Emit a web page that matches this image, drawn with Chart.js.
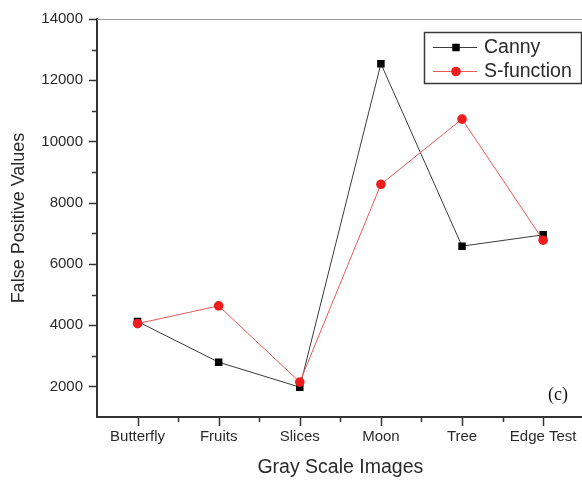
<!DOCTYPE html>
<html>
<head>
<meta charset="utf-8">
<script src="https://cdn.jsdelivr.net/npm/chart.js@4.4.1/dist/chart.umd.min.js"></script>
<style>
  html, body { margin: 0; padding: 0; background: #fff; overflow: hidden; }
  canvas { display: block; }
</style>
</head>
<body>
<canvas id="c" width="589" height="482"></canvas>
<script>
// Test images on the x axis
const images = ['Butterfly', 'Fruits', 'Slices', 'Moon', 'Tree', 'Edge Test'];
// False positive counts per detector
const cannyValues = [4120, 2790, 1975, 12540, 6580, 6950];
const sFunctionValues = [4050, 4630, 2140, 8600, 10730, 6775];
// Labelled y ticks (minor ticks fall halfway between)
const yLabelTicks = [2000, 4000, 6000, 8000, 10000, 12000, 14000];
const yMin = 1000, yMax = 14000, yMinorStep = 1000;

const AXIS = '#333333';
const TEXT = '#2a2a2a';
const SANS = '"Liberation Sans", Arial, sans-serif';

// Outward major/minor tick marks, top frame line, legend box and panel tag
const decorations = {
  id: 'decorations',
  afterDraw(chart) {
    const ctx = chart.ctx;
    const area = chart.chartArea;
    const xs = chart.scales.x, ys = chart.scales.y;
    ctx.save();

    // top frame line
    ctx.strokeStyle = '#9a9a9a';
    ctx.lineWidth = 1;
    ctx.beginPath();
    ctx.moveTo(area.left, area.top + 0.5);
    ctx.lineTo(area.right, area.top + 0.5);
    ctx.stroke();

    // y ticks
    ctx.strokeStyle = AXIS;
    ctx.lineWidth = 1.5;
    for (let v = yMin + yMinorStep; v <= yMax; v += yMinorStep) {
      const py = Math.round(ys.getPixelForValue(v)) + 0.5;
      const len = yLabelTicks.includes(v) ? 7 : 4;
      ctx.beginPath();
      ctx.moveTo(area.left - 1, py);
      ctx.lineTo(area.left - 1 - len, py);
      ctx.stroke();
    }

    // x ticks: major at categories, minor between them
    for (let i = 0; i < images.length; i++) {
      const px = Math.round(xs.getPixelForValue(i)) + 0.5;
      ctx.beginPath();
      ctx.moveTo(px, area.bottom + 1);
      ctx.lineTo(px, area.bottom + 9);
      ctx.stroke();
      if (i < images.length - 1) {
        const mx = Math.round((xs.getPixelForValue(i) + xs.getPixelForValue(i + 1)) / 2) + 0.5;
        ctx.beginPath();
        ctx.moveTo(mx, area.bottom + 1);
        ctx.lineTo(mx, area.bottom + 5);
        ctx.stroke();
      }
    }

    // legend
    const lx = 424, ly = 32, lw = 157, lh = 51;
    ctx.strokeStyle = '#3a3a3a';
    ctx.lineWidth = 1.5;
    ctx.strokeRect(lx + 0.5, ly + 0.5, lw, lh);
    const ds = chart.data.datasets.slice().sort((a, b) => a.legendRank - b.legendRank);
    ds.forEach((d, k) => {
      const cy = ly + 15 + k * 24;
      ctx.strokeStyle = d.borderColor;
      ctx.lineWidth = 1;
      ctx.beginPath();
      ctx.moveTo(lx + 9, cy + 0.5);
      ctx.lineTo(lx + 53, cy + 0.5);
      ctx.stroke();
      ctx.fillStyle = d.pointBackgroundColor;
      Chart.helpers.drawPoint(ctx, {
        pointStyle: d.pointStyle,
        radius: d.pointRadius,
        borderWidth: 0,
        rotation: 0
      }, lx + 32, cy + 0.5);
      ctx.fillStyle = TEXT;
      ctx.font = '19.5px ' + SANS;
      ctx.textAlign = 'left';
      ctx.textBaseline = 'middle';
      ctx.fillText(d.label, lx + 60, cy + 1);
    });

    // panel tag
    ctx.fillStyle = '#111';
    ctx.font = '18px "Liberation Serif", "Times New Roman", serif';
    ctx.textAlign = 'center';
    ctx.textBaseline = 'middle';
    ctx.fillText('(c)', 558, 395);

    ctx.restore();
  }
};

new Chart(document.getElementById('c'), {
  type: 'line',
  data: {
    labels: images,
    datasets: [
      {
        label: 'Canny',
        legendRank: 0,
        order: 1,
        data: cannyValues,
        borderColor: '#3c3c3c',
        borderWidth: 1,
        pointStyle: 'rect',
        pointRadius: 5.3,
        pointHoverRadius: 5.3,
        pointBackgroundColor: '#000000',
        pointBorderColor: '#000000',
        pointBorderWidth: 0,
        tension: 0,
        fill: false
      },
      {
        label: 'S-function',
        legendRank: 1,
        order: 0,
        data: sFunctionValues,
        borderColor: '#e65a5a',
        borderWidth: 1,
        pointStyle: 'circle',
        pointRadius: 4.8,
        pointHoverRadius: 4.8,
        pointBackgroundColor: '#ee1c1c',
        pointBorderColor: '#ee1c1c',
        pointBorderWidth: 0,
        tension: 0,
        fill: false
      }
    ]
  },
  options: {
    responsive: false,
    animation: false,
    events: [],
    layout: { padding: { top: 19, left: 0, right: 0, bottom: 0 } },
    plugins: {
      legend: { display: false },
      tooltip: { enabled: false },
      title: { display: false }
    },
    scales: {
      x: {
        type: 'category',
        offset: true,
        grid: { display: true, drawOnChartArea: false, drawTicks: false },
        border: { display: true, color: AXIS, width: 2 },
        ticks: {
          color: TEXT,
          font: { family: SANS, size: 15, lineHeight: 1.8 },
          padding: 6,
          maxRotation: 0,
          autoSkip: false
        },
        title: {
          display: true,
          text: 'Gray Scale Images',
          color: TEXT,
          font: { family: SANS, size: 19.5 },
          padding: { top: 0, bottom: 3 }
        },
        afterFit(scale) {
          scale.height = 65;
          scale.paddingLeft = 0;
          scale.paddingRight = 0;
        }
      },
      y: {
        min: yMin,
        max: yMax,
        grid: { display: true, drawOnChartArea: false, drawTicks: false },
        border: { display: true, color: AXIS, width: 2 },
        ticks: {
          stepSize: yMinorStep,
          autoSkip: false,
          color: TEXT,
          font: { family: SANS, size: 15 },
          padding: 14,
          callback: (v) => (yLabelTicks.includes(v) ? String(v) : '')
        },
        title: {
          display: true,
          text: 'False Positive Values',
          color: TEXT,
          font: { family: SANS, size: 18 },
          padding: { top: 8, bottom: 0 }
        },
        afterFit(scale) {
          scale.width = 97;
          scale.paddingTop = 0;
          scale.paddingBottom = 0;
        }
      }
    }
  },
  plugins: [decorations]
});
</script>
</body>
</html>
